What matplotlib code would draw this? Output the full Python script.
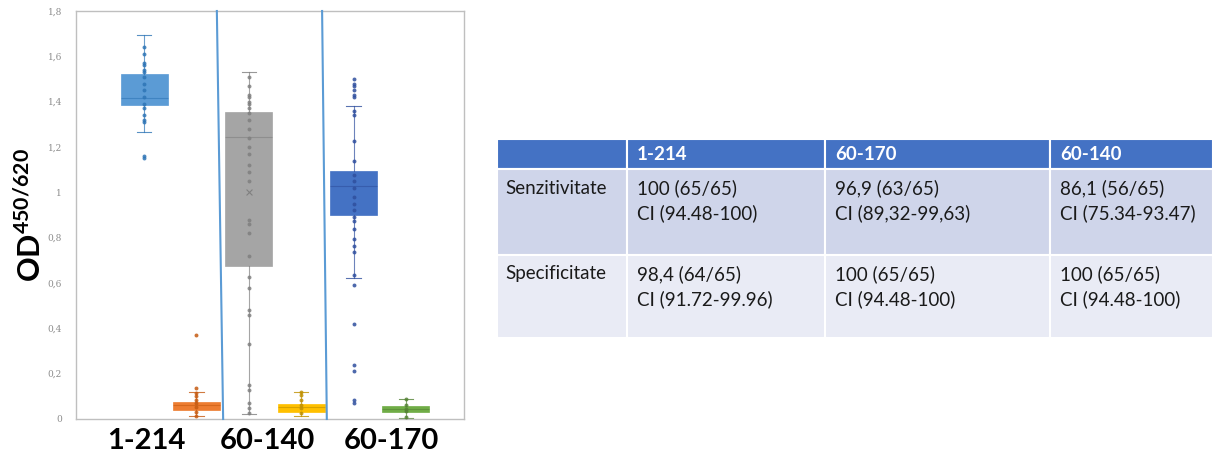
import numpy as np
import matplotlib.pyplot as plt
from matplotlib.patches import Rectangle

plt.rcParams['font.family'] = ['Lato', 'DejaVu Sans']
plt.rcParams['mathtext.fontset'] = 'custom'
plt.rcParams['mathtext.bf'] = 'Lato:bold'
plt.rcParams['mathtext.rm'] = 'Lato'

# --- box plot data ---
box_names = ['1-214 poz', '1-214 neg', '60-140 poz', '60-140 neg', '60-170 poz', '60-170 neg']
box_q1 = [1.384, 0.040, 0.676, 0.033, 0.900, 0.030]
box_med = [1.418, 0.060, 1.245, 0.052, 1.028, 0.043]
box_q3 = [1.520, 0.077, 1.355, 0.067, 1.095, 0.058]
box_lo = [1.265, 0.013, 0.020, 0.013, 0.620, 0.004]
box_hi = [1.695, 0.120, 1.530, 0.120, 1.380, 0.089]
box_fill = ['#5B9BD5', '#ED7D31', '#A5A5A5', '#FFC000', '#4472C4', '#70AD47']
box_dark = ['#2E75B6', '#C55A11', '#7F7F7F', '#BF9000', '#2F4F9E', '#548235']

pts_1214_poz = [1.64, 1.61, 1.57, 1.56, 1.54, 1.53, 1.51, 1.48, 1.45, 1.42, 1.39,
                1.37, 1.34, 1.32, 1.31, 1.16, 1.15]
pts_1214_neg = [0.369, 0.136, 0.114, 0.10, 0.085, 0.07, 0.055, 0.033, 0.013]
pts_60140_poz = [1.51, 1.47, 1.43, 1.42, 1.40, 1.39, 1.37, 1.35, 1.32, 1.28, 1.24,
                 1.20, 1.17, 1.12, 1.09, 1.05, 0.88, 0.86, 0.82, 0.72, 0.625, 0.58,
                 0.48, 0.46, 0.33, 0.15, 0.13, 0.07, 0.05, 0.025]
pts_60140_neg = [0.12, 0.107, 0.085, 0.062, 0.047, 0.025]
pts_60170_poz = [1.50, 1.48, 1.47, 1.45, 1.43, 1.42, 1.36, 1.34, 1.225, 1.14, 1.077,
                 1.05, 1.02, 0.98, 0.95, 0.92, 0.89, 0.875, 0.84, 0.795, 0.765, 0.736,
                 0.636, 0.59, 0.42, 0.24, 0.21, 0.085, 0.07]
pts_60170_neg = [0.089, 0.06, 0.045, 0.035, 0.008]
box_points = [pts_1214_poz, pts_1214_neg, pts_60140_poz, pts_60140_neg, pts_60170_poz, pts_60170_neg]
mean_60140 = 1.0

group_labels = ['1-214', '60-140', '60-170']
group_x = [1.05, 3.35, 5.72]
sep_top = [2.39, 4.40]
sep_bottom = [2.51, 4.49]

# --- table data ---
tab_header = ['', '1-214', '60-170', '60-140']
tab_rows = ['Senzitivitate', 'Specificitate']
tab_cells = [['100 (65/65)\nCI (94.48-100)', '96,9 (63/65)\nCI (89,32-99,63)', '86,1 (56/65)\nCI (75.34-93.47)'],
             ['98,4 (64/65)\nCI (91.72-99.96)', '100 (65/65)\nCI (94.48-100)', '100 (65/65)\nCI (94.48-100)']]

W, H = 1213, 459
fig = plt.figure(figsize=(W / 100, H / 100), dpi=100)

# box plot axes
ax = fig.add_axes([76 / W, 1 - 419 / H, (464 - 76) / W, (419 - 11) / H])
pos = np.arange(1, 7)
stats = []
for i in range(6):
    stats.append(dict(med=box_med[i], q1=box_q1[i], q3=box_q3[i],
                      whislo=box_lo[i], whishi=box_hi[i], fliers=[]))
bp = ax.bxp(stats, positions=pos, widths=0.9, patch_artist=True, showfliers=False,
            capwidths=0.27)
for i in range(6):
    bp['boxes'][i].set(facecolor=box_fill[i], edgecolor=box_fill[i], linewidth=0.5)
    bp['medians'][i].set(color=box_dark[i], linewidth=0.8, alpha=0.6)
    for k in (2 * i, 2 * i + 1):
        bp['whiskers'][k].set(color=box_dark[i], linewidth=0.8, alpha=0.7)
        bp['caps'][k].set(color=box_dark[i], linewidth=0.8, alpha=0.8)
    ax.scatter(np.full(len(box_points[i]), pos[i]), box_points[i], s=8,
               color=box_dark[i], zorder=3, alpha=0.85, linewidths=0)
ax.scatter([3], [mean_60140], marker='x', s=18, color='#808080', linewidths=0.8, zorder=4)

for t, b in zip(sep_top, sep_bottom):
    ax.plot([t, b], [1.8, 0], color='#5B9BD5', linewidth=1.5, clip_on=False, zorder=5)

ax.set_xlim(-0.3, 7.11)
ax.set_ylim(0, 1.8)
ax.set_xticks([])
yt = np.arange(0, 1.81, 0.2)
ax.set_yticks(yt)
ax.set_yticklabels([f'{v:.1f}'.rstrip('0').rstrip('.').replace('.', ',') for v in yt],
                   fontsize=6.5, color='#8C8C8C', family='DejaVu Serif')
ax.tick_params(axis='y', length=0, pad=10)
for s in ax.spines.values():
    s.set_color('#BFBFBF')
    s.set_linewidth(1)

for lab, gx in zip(group_labels, group_x):
    ax.text(gx, -0.055, lab, transform=ax.get_xaxis_transform(), ha='center', va='center',
            fontsize=21, fontweight='bold')

fig.text(30 / W, 1 - 215 / H, r'$\mathbf{OD}^{\mathbf{450/620}}$', rotation=90,
         ha='center', va='center', fontsize=22)

# table axes
tx = [497, 627, 825, 1050, 1213]
ty = [139, 169, 255, 338]
tab = fig.add_axes([0, 0, 1, 1])
tab.set_xlim(0, W)
tab.set_ylim(H, 0)
tab.axis('off')
row_colors = ['#4472C4', '#CFD5EA', '#E9EBF5']
fs = 13.5
for r in range(3):
    for c in range(4):
        tab.add_patch(Rectangle((tx[c], ty[r]), tx[c + 1] - tx[c], ty[r + 1] - ty[r],
                                facecolor=row_colors[r], edgecolor='white', linewidth=1.5))
for c in range(1, 4):
    tab.text(tx[c] + 10, (ty[0] + ty[1]) / 2, tab_header[c], color='white', fontweight='bold',
             fontsize=fs, ha='left', va='center')
for r in range(2):
    top = ty[r + 1]
    tab.text(tx[0] + 8, top + 19, tab_rows[r], fontsize=fs, ha='left', va='center', color='#1a1a1a')
    for c in range(3):
        lines = tab_cells[r][c].split('\n')
        tab.text(tx[c + 1] + 10, top + 19, lines[0], fontsize=fs, ha='left', va='center', color='#1a1a1a')
        tab.text(tx[c + 1] + 10, top + 44, lines[1], fontsize=fs, ha='left', va='center', color='#1a1a1a')

fig.savefig('out.png', dpi=100)
